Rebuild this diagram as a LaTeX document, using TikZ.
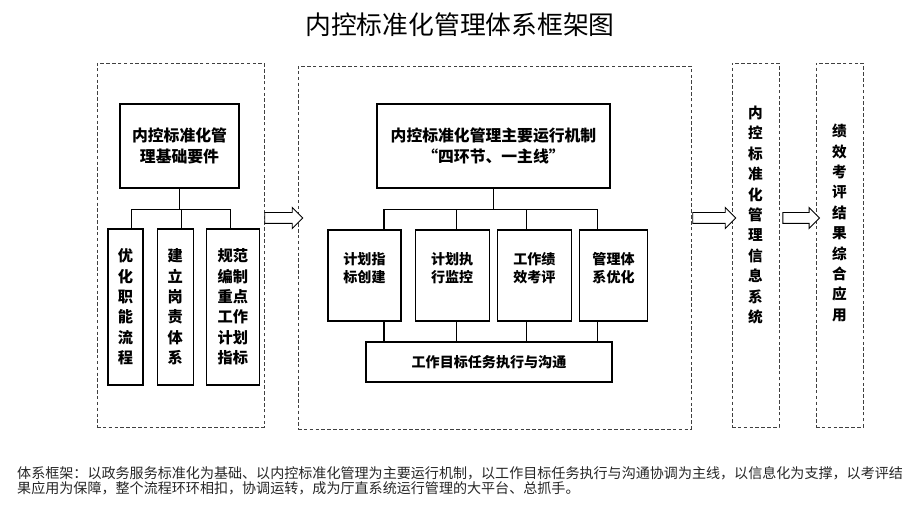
\documentclass[tikz,border=0pt]{standalone}
\usepackage{fontspec}
\setmainfont{Noto Sans CJK SC}
\usetikzlibrary{positioning, shapes.arrows, calc}

% box with text set near its top edge
\newcommand{\topcell}[2]{\parbox[c][2.73cm][t]{#1}{\centering\rule{0pt}{1.05cm}#2}}

\begin{document}
\begin{tikzpicture}[x=0.03cm, y=-0.03cm, >=stealth,
    dashframe/.style={draw=black!75, densely dashed, line width=0.6pt, minimum height=10.92cm},
    headbox/.style={draw, line width=1pt, align=center, minimum height=2.52cm, font=\bfseries\fontsize{13.5}{18}\selectfont},
    lsub/.style={draw, line width=1pt, align=center, minimum height=4.68cm, inner sep=0pt, font=\bfseries\fontsize{13}{17.4}\selectfont},
    msub/.style={draw, line width=1pt, inner sep=0pt, font=\bfseries\fontsize{12}{15.3}\selectfont},
    vtext/.style={align=center, font=\bfseries\fontsize{12.5}{17.4}\selectfont},
    hollow/.style={single arrow, draw, line width=0.8pt, fill=white, inner sep=0.15cm, single arrow head extend=0.15cm},
    link/.style={line width=1pt}]
    \useasboundingbox (0,0) rectangle (920,514);

    % title
    \node (title) at (460,25) {\fontsize{22}{26}\selectfont 内控标准化管理体系框架图};

    % dashed frames
    \node[dashframe, minimum width=5.01cm] (lframe) at (180.5,245) {};
    \node[dashframe, minimum width=11.79cm, minimum height=10.89cm] (mframe) at (494.5,247.5) {};
    \node[dashframe, minimum width=1.41cm] (sframe) at (755.5,245) {};
    \node[dashframe, minimum width=1.41cm] (rframe) at (839.5,245) {};

    % left part
    \node[headbox, minimum width=3.57cm] (ltop) at (179.5,146) {内控标准化管\\理基础要件};
    \node[lsub, minimum width=1.05cm] (l1) at (125.5,307) {优\\化\\职\\能\\流\\程};
    \node[lsub, minimum width=1.08cm, right=0.39cm of l1] (l2) {建\\立\\岗\\责\\体\\系};
    \node[lsub, minimum width=1.59cm, right=0.36cm of l2] (l3) {规范\\编制\\重点\\工作\\计划\\指标};

    \coordinate (lbus) at ($(ltop.south)+(0,21)$);
    \draw[link] (ltop.south) -- (lbus);
    \foreach \n/\dx in {l1/6, l2/6, l3/-2}
        \draw[link] ($(\n.north)+(\dx,0)$) |- (lbus);

    % middle part
    \node[headbox, minimum width=6.99cm] (mtop) at (493.5,146) {内控标准化管理主要运行机制\\“四环节、一主线”};
    \node[msub] (m1) at (364.5,275.5) {\topcell{2.19cm}{计划指\\标创建}};
    \node[msub, right=0.39cm of m1] (m2) {\topcell{2.22cm}{计划执\\行监控}};
    \node[msub, right=0.21cm of m2] (m3) {\topcell{2.22cm}{工作绩\\效考评}};
    \node[msub, right=0.21cm of m3] (m4) {\topcell{2.04cm}{管理体\\系优化}};
    \node[draw, line width=1pt, minimum width=7.38cm, minimum height=1.2cm, font=\bfseries\fontsize{12}{15}\selectfont] (mbot) at (489,362) {工作目标任务执行与沟通};

    \coordinate (mbus) at ($(mtop.south)+(0,21)$);
    \draw[link] (mtop.south) -- (mbus);
    \foreach \n/\dx in {m1/19.5, m2/4, m3/-8, m4/-16} {
        \draw[link] ($(\n.north)+(\dx,0)$) |- (mbus);
        \draw[link] ($(\n.south)+(\dx,0)$) coordinate (leg) -- (leg |- mbot.north);
    }

    % right columns
    \node[vtext] (stext) at (755.5,215) {内\\控\\标\\准\\化\\管\\理\\信\\息\\系\\统};
    \node[vtext] (rtext) at (839.5,223) {绩\\效\\考\\评\\结\\果\\综\\合\\应\\用};

    % hollow arrows between frames
    \node[hollow, minimum height=1.14cm] (a1) at (281,218) {};
    \node[hollow, minimum height=1.29cm] (a2) at (711.5,218) {};
    \node[hollow, minimum height=1.1cm] (a3) at (798.5,218) {};

    % note
    \node[anchor=north west, align=left, inner sep=0pt, text=black!85, font=\fontsize{12}{13}\selectfont] (note) at (17,466)
        {体系框架：以政务服务标准化为基础、以内控标准化管理为主要运行机制，以工作目标任务执行与沟通协调为主线，以信息化为支撑，以考评结\\
         果应用为保障，整个流程环环相扣，协调运转，成为厅直系统运行管理的大平台、总抓手。};
\end{tikzpicture}
\end{document}
